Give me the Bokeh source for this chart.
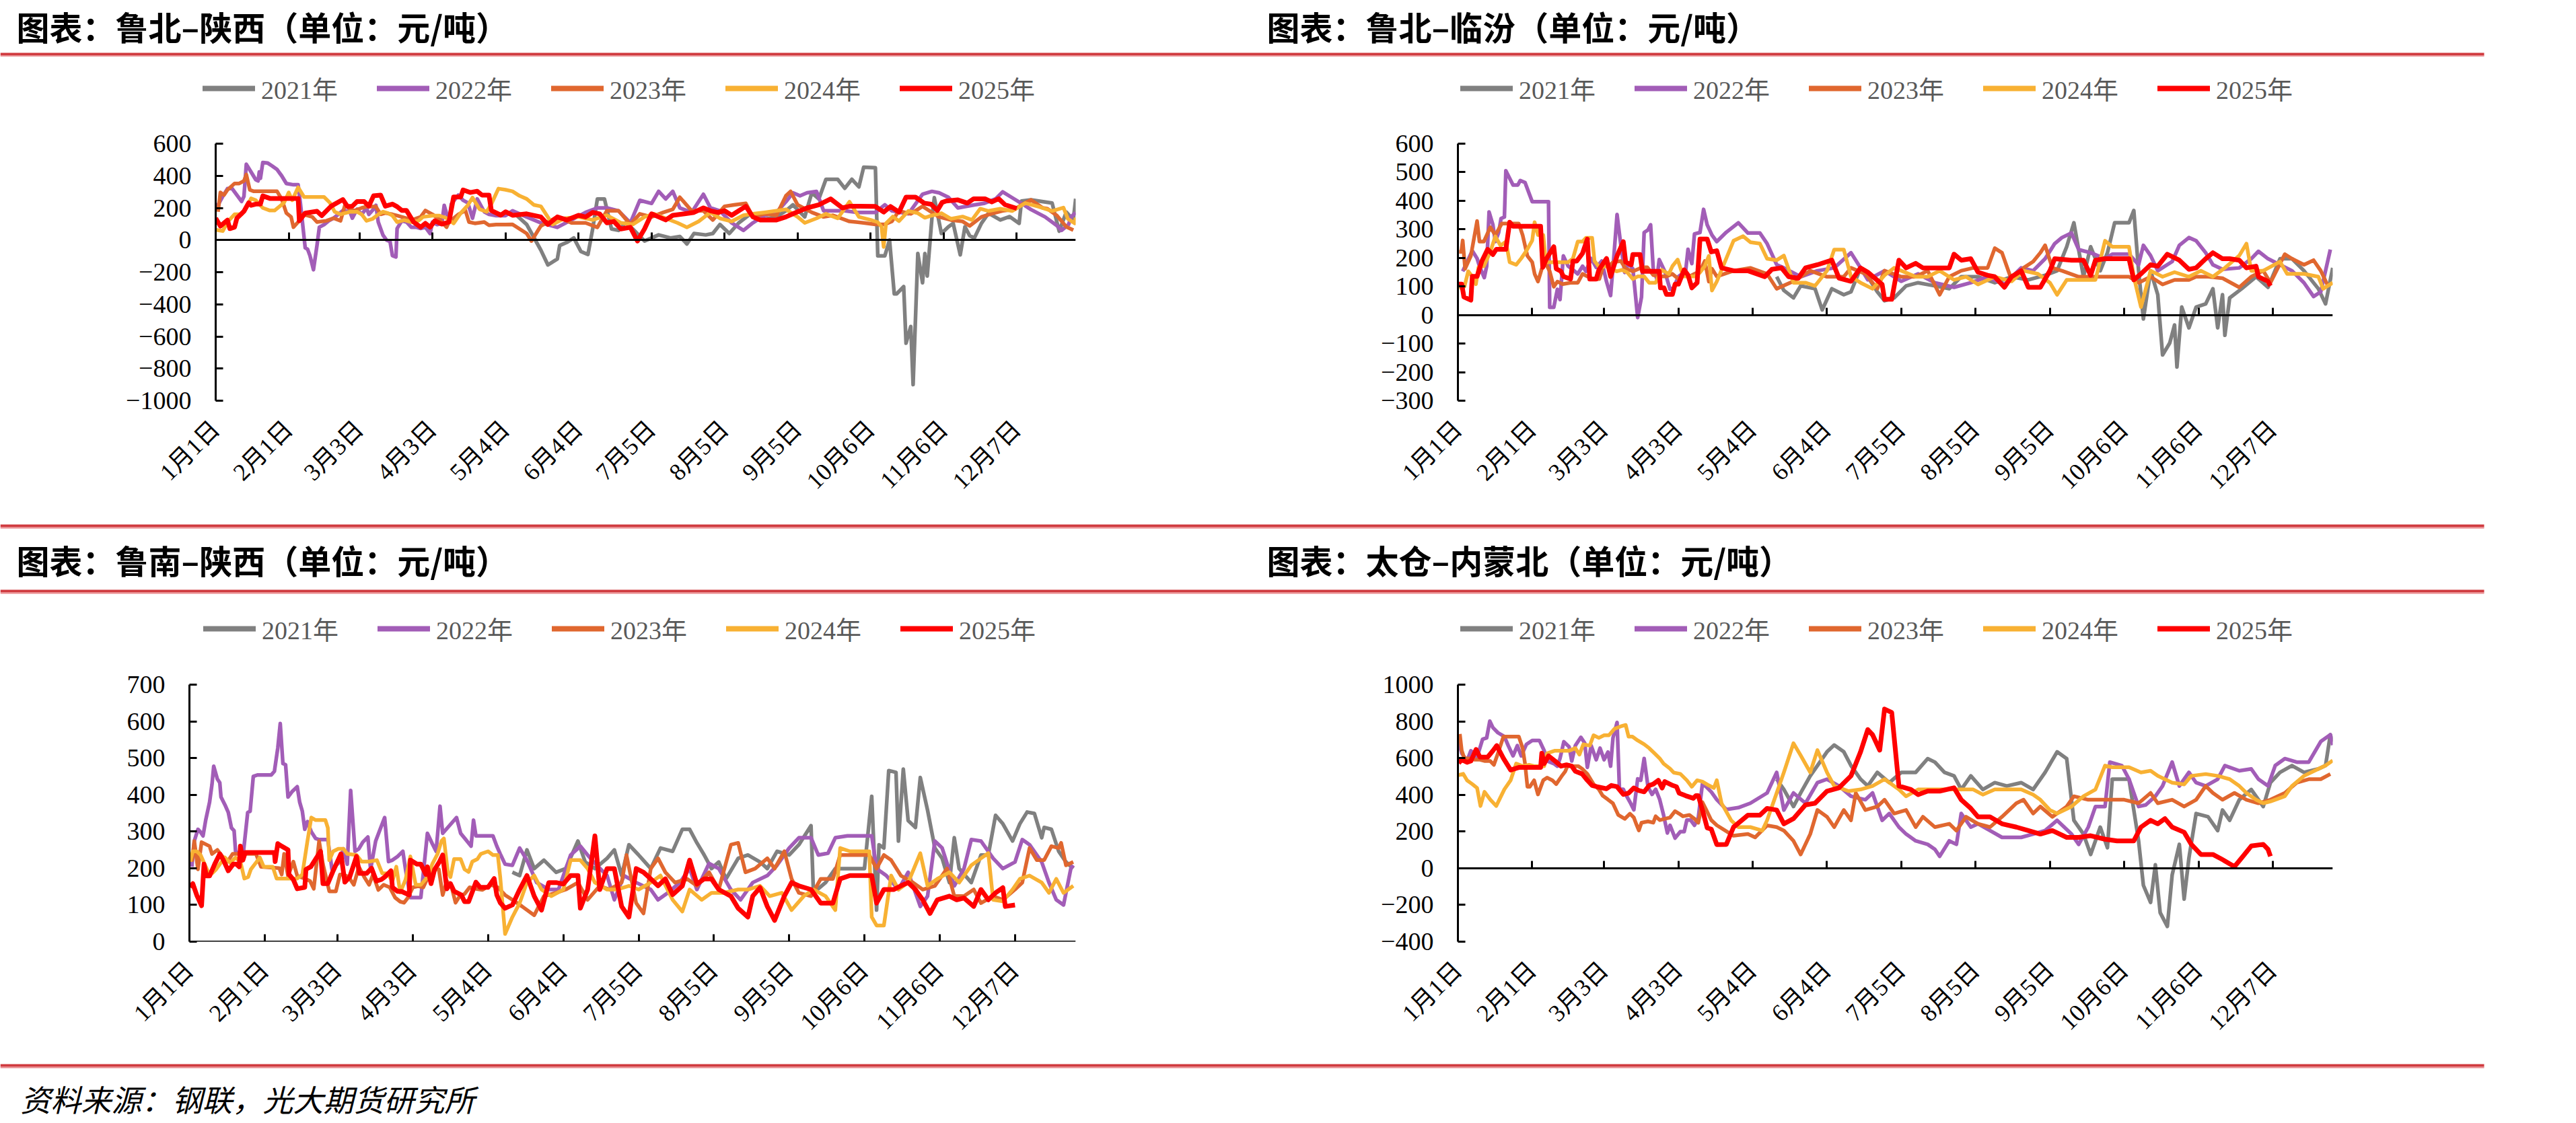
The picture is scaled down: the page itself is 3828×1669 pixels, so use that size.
import math
from bokeh.plotting import figure
from bokeh.models import LinearAxis, FixedTicker, Legend, LegendItem, Range1d
from bokeh.layouts import column, row
from bokeh.embed import file_html
from bokeh.resources import INLINE
from bokeh.core.properties import value

# ---------------------------------------------------------------- data
years = ["2021年", "2022年", "2023年", "2024年", "2025年"]
tick_days = [0, 31, 61, 92, 123, 154, 185, 216, 247, 278, 309, 340]
tick_labels = ["1月1日", "2月1日", "3月3日", "4月3日", "5月4日", "6月4日",
               "7月5日", "8月5日", "9月5日", "10月6日", "11月6日", "12月7日"]
titles = ["图表：鲁北–陕西（单位：元/吨）", "图表：鲁北–临汾（单位：元/吨）",
          "图表：鲁南–陕西（单位：元/吨）", "图表：太仓–内蒙北（单位：元/吨）"]
source_note = "资料来源：钢联，光大期货研究所"

# [day of year (0 = 1月1日), 元/吨]
lubei_shaanxi_2021 = [[128,150],[132,97],[138,-62],[141,-155],[145,-118],[146,-34],[149,-15],[152,13],[155,-71],[158,-90],[160,69],[162,256],[165,256],[168,69],[171,60],[174,107],[177,69],[182,-6],[185,13],[188,32],[193,13],[197,22],[200,-24],[203,41],[208,32],[211,41],[214,97],[218,41],[222,107],[227,163],[231,125],[238,144],[242,182],[245,219],[250,144],[253,294],[256,256],[259,378],[264,378],[267,322],[270,378],[273,331],[275,453],[280,450],[281,-98],[284,-98],[286,0],[288,-335],[289,-335],[292,-290],[293,-642],[295,-538],[296,-900],[298,-84],[300,-266],[301,-84],[302,-224],[304,139],[305,264],[308,41],[311,83],[313,104],[316,-92],[318,83],[320,27],[322,13],[325,104],[328,167],[333,125],[337,146],[341,104],[342,243],[346,250],[355,230],[358,55],[361,174],[364,125],[365,257]]
lubei_shaanxi_2022 = [[0,192],[3,272],[5,320],[7,320],[9,280],[11,240],[12,272],[13,472],[15,424],[17,376],[18,368],[18.5,424],[19,384],[20,483],[22,480],[24,461],[26,440],[28,400],[30,352],[33,344],[35,344],[36,224],[38,-49],[39,-57],[40,-97],[41.5,-185],[43,-33],[44,80],[46,96],[48,120],[50,136],[52,160],[54,184],[57,176],[58,136],[60,192],[62,160],[64,200],[65,160],[67,192],[68,216],[69,112],[71,31],[72.5,0],[74,-9],[75,-97],[76.5,-105],[77,72],[79,120],[81,112],[83,80],[85,80],[87,72],[89,80],[91,40],[92,112],[94,96],[96,104],[97,216],[99,112],[100,224],[103,280],[105,248],[107,232],[109,136],[111,256],[114,176],[116,160],[119,152],[123,152],[126,182],[132,144],[138,107],[145,79],[151,125],[157,172],[162,200],[166,200],[171,182],[176,107],[180,247],[185,228],[188,303],[191,256],[194,303],[197,200],[202,172],[207,285],[210,200],[214,182],[219,107],[224,60],[228,107],[233,154],[238,172],[242,238],[245,294],[248,275],[251,294],[255,303],[258,182],[262,182],[267,182],[272,172],[280,172],[284,219],[287,182],[294,163],[300,285],[304,303],[307,294],[311,266],[315,200],[322,219],[326,228],[331,256],[334,300],[338,264],[342,228],[346,190],[352,144],[357,90],[359,60],[362,97],[363,144],[365,170]]
lubei_shaanxi_2023 = [[1,176],[2,296],[3.5,280],[5,312],[8,352],[10,352],[12,368],[13,408],[14.5,312],[16,304],[19,304],[26,304],[28,256],[30,168],[32,144],[33,80],[35,112],[37,160],[39,152],[41,144],[43,112],[47,120],[50,136],[53,120],[55,224],[57,192],[59,184],[62,200],[64,208],[68,208],[70,160],[72,168],[75,160],[77,152],[81,136],[84,128],[87,144],[89,184],[92,160],[95,128],[98,80],[99,112],[103,160],[106,184],[107.5,112],[110,104],[114,112],[116,92],[119,96],[123,96],[126,97],[132,41],[134,-6],[138,88],[145,144],[151,107],[157,107],[162,79],[166,182],[171,182],[176,97],[180,163],[185,144],[190,172],[194,191],[197,266],[202,182],[207,182],[211,125],[216,210],[220,219],[225,228],[228,144],[233,163],[238,154],[242,275],[244,303],[247,219],[253,172],[258,144],[262,154],[269,116],[275,107],[280,97],[284,97],[287,116],[290,182],[295,163],[300,210],[304,172],[307,144],[312,125],[317,116],[320,88],[325,144],[329,163],[334,182],[339,191],[342,219],[346,250],[351,200],[353,195],[357,153],[361,83],[364,62]]
lubei_shaanxi_2024 = [[0,64],[3,56],[5,112],[8,160],[11,160],[13,200],[15,259],[17,248],[20,200],[23,184],[25,184],[27,208],[29,232],[31,296],[32.5,248],[35,328],[37.5,268],[41,268],[46,268],[48.5,232],[50.5,176],[53,160],[57,176],[60,176],[62,160],[64,120],[66.5,131],[69,160],[71,176],[73,168],[75,152],[77,112],[80,124],[83,112],[86,120],[88,144],[92,152],[95,152],[98,136],[101,104],[104,168],[107,216],[109,264],[112,192],[115,176],[117,224],[120,320],[123,313],[126,303],[129,275],[132,256],[135,219],[138,210],[143,97],[148,135],[154,144],[160,125],[166,154],[172,107],[177,97],[182,144],[186,163],[191,135],[196,107],[200,79],[205,116],[210,172],[214,135],[219,116],[224,154],[228,163],[233,172],[238,182],[242,191],[247,144],[250,107],[255,135],[259,163],[264,135],[269,238],[273,144],[278,125],[281,111],[282.6,83],[283.5,-43],[284.5,104],[287.4,146],[290,118],[294,181],[298,167],[301,139],[304,153],[308,167],[312,132],[317,146],[321,125],[324.5,195],[328,181],[333,195],[338,181],[343.6,230],[349,209],[355,181],[359.8,202],[361.7,132],[364.6,104],[365,139]]
lubei_shaanxi_2025 = [[0,136],[2,87],[5,124],[6,71],[8,80],[9,136],[12,179],[14,232],[15,216],[17,224],[19,224],[20,275],[23,259],[35,259],[35.5,120],[38,168],[43,179],[45,152],[49,211],[54,252],[56,208],[58,211],[60,240],[63,240],[65,211],[67,275],[70,280],[72,211],[75,224],[77,208],[79,184],[81,184],[84,112],[87,80],[89,104],[91,80],[93,120],[96,99],[99,112],[101,268],[104,268],[105,312],[108,296],[111,304],[113,280],[116,280],[117,184],[121,155],[123,176],[126,154],[132,163],[138,144],[141,97],[145,144],[149,125],[154,154],[157,144],[160,172],[163,163],[166,107],[169,116],[172,69],[176,79],[179,-6],[182,69],[185,163],[188,144],[191,125],[194,154],[199,163],[203,172],[207,200],[210,182],[213,172],[216,182],[219,154],[222,182],[225,210],[228,144],[231,125],[238,125],[242,144],[245,163],[248,182],[251,200],[256,219],[261,256],[266,200],[269,210],[273,210],[280,209],[283.5,174],[286.4,209],[290,174],[293,267],[297,267],[300.7,230],[303.6,223],[306.3,184],[308.3,234],[310,243],[315,250],[319,230],[321.7,257],[326.5,257],[329.4,237],[332.3,257],[335,220],[340,197]]

lubei_linfen_2021 = [[133,134],[136,86],[140,60],[143,102],[149,92],[152,18],[156,92],[161,71],[164,81],[168,165],[171,134],[175,81],[178,50],[182,60],[187,102],[192,113],[199,102],[205,92],[210,134],[217,134],[224,113],[231,134],[238,123],[245,139],[250,155],[254,239],[257,323],[261,134],[264,239],[268,155],[271,218],[274,323],[280,323],[282,366],[284,155],[286,-14],[289,155],[292,71],[294,-140],[297,-98],[299,-35],[300,-182],[302,28],[305,-45],[308,28],[312,39],[315,92],[317,-45],[319,71],[320,-71],[322,60],[327,92],[333,134],[338,97],[343,197],[348,197],[353,155],[359,92],[362,39],[365,165]]
lubei_linfen_2022 = [[2,153],[4,189],[6,225],[8,198],[9,171],[11,131],[12,171],[13,361],[14.6,316],[15.6,257],[17,289],[18,338],[19.4,343],[20,505],[23,455],[25,455],[26,471],[28,464],[31,397],[33,397],[37.8,397],[38.3,27],[40,27],[41.5,90],[42.6,54],[44,207],[46,171],[47.5,162],[50,144],[52,171],[53.4,153],[55.6,198],[57.7,167],[60,189],[62,117],[63.7,68],[65,198],[66.4,352],[68,243],[69.6,149],[71.2,180],[73,162],[75,-9],[76.6,63],[77.7,289],[79.3,298],[80.4,316],[81.5,162],[83,126],[84,194],[86.3,153],[88.5,90],[90,95],[92,135],[95,153],[96,230],[97.6,180],[98.7,284],[101,289],[102.5,370],[104,316],[106,280],[108,257],[112,290],[117,323],[121,287],[126,287],[129,250],[133,176],[136,165],[143,134],[150,155],[157,165],[164,218],[168,165],[171,123],[178,155],[185,118],[192,144],[199,113],[207,97],[214,113],[221,134],[228,107],[235,165],[240,155],[245,197],[249,250],[252,271],[256,287],[259,229],[264,218],[270,197],[273,213],[280,213],[284,176],[286,244],[289,208],[292,155],[298,187],[301,244],[305,271],[308,260],[312,218],[315,176],[319,160],[326,165],[331,197],[334,223],[338,197],[343,176],[348,155],[353,113],[357,65],[360,81],[364,229]]
lubei_linfen_2023 = [[0.5,221],[1.4,221],[2,261],[3,162],[5.4,207],[8,329],[9,257],[10.8,257],[13.5,307],[15.6,280],[18.3,320],[21,320],[25.4,320],[27,280],[29,207],[31,185],[32,144],[33.4,117],[35,162],[36.7,180],[38.3,153],[40,99],[41.5,117],[43.7,108],[47,113],[50,113],[52,144],[54,135],[56,126],[59,126],[61,180],[63,171],[64.7,185],[68,189],[70,162],[73,153],[75.5,162],[77,167],[79,167],[81.5,140],[84,135],[87,135],[89.5,144],[92,126],[94,140],[96.6,135],[98.7,144],[101,153],[103,189],[104.7,117],[106,162],[108,135],[115,155],[122,165],[129,144],[133,92],[140,118],[147,155],[154,134],[161,134],[164,165],[170,144],[175,92],[178,155],[185,134],[191,134],[196,155],[201,71],[205,134],[210,155],[215,165],[221,165],[224,234],[227,218],[231,123],[236,165],[240,187],[243,218],[245,244],[248,165],[252,155],[259,134],[266,134],[273,134],[280,134],[284,113],[289,134],[294,107],[299,123],[305,123],[308,134],[313,134],[319,129],[326,97],[331,134],[336,155],[339,113],[345,213],[348,197],[353,176],[357,192],[360,155],[363,102]]
lubei_linfen_2024 = [[0.5,95],[2.7,99],[4.3,153],[6,135],[7.5,108],[8.6,167],[10.8,171],[13.5,221],[15.6,275],[17.8,243],[20,257],[21.6,185],[24.3,176],[26.4,198],[28.6,225],[31,261],[32,325],[33.4,280],[35.6,280],[36.7,185],[41.5,185],[46,185],[48,198],[50,257],[52,257],[53.4,270],[56,270],[57,189],[59,167],[62,171],[64,158],[66.4,153],[68.5,158],[70.7,149],[73,126],[75,135],[77.7,135],[79.8,113],[82.5,113],[85,158],[88,144],[89.5,171],[91.7,194],[94,135],[96.6,135],[98.7,135],[101,149],[103,171],[104.7,207],[106,86],[108,117],[115,260],[119,276],[122,255],[126,250],[129,197],[133,192],[136,208],[140,113],[145,113],[149,102],[154,155],[157,229],[161,229],[164,134],[168,113],[173,92],[178,139],[182,165],[185,155],[191,134],[196,134],[201,155],[207,123],[212,134],[217,107],[224,134],[231,118],[236,155],[242,144],[247,113],[250,71],[254,123],[261,123],[266,123],[270,260],[273,239],[280,239],[282,134],[285,28],[289,155],[294,134],[299,150],[305,134],[310,155],[315,134],[320,165],[326,208],[329,250],[331,155],[336,155],[343,187],[346,144],[353,144],[359,134],[361,92],[365,113]]
lubei_linfen_2025 = [[0,108],[1.6,108],[2.5,63],[5.4,52],[6,135],[8,135],[10,189],[12.4,230],[14.6,212],[16,230],[20,230],[21.6,325],[23,311],[34.5,311],[35.4,167],[37,198],[40,239],[41,162],[43,153],[44,135],[47,126],[48,189],[49.6,189],[52,216],[54,266],[55,126],[57.7,126],[58.8,158],[62,198],[63.7,135],[66.4,207],[69,257],[70,185],[72.3,176],[73,212],[76,212],[77,153],[84,153],[84.5,95],[86,95],[87,72],[89.5,72],[90.6,108],[92,108],[94.4,158],[96,140],[97.6,95],[99.8,113],[101,266],[104,266],[105.7,221],[108,225],[110,165],[115,155],[121,155],[128,134],[131,160],[135,165],[138,134],[142,129],[145,165],[150,176],[156,192],[159,129],[164,118],[168,165],[171,150],[177,107],[178,55],[181,55],[184,192],[187,165],[191,181],[194,165],[205,165],[207,213],[210,192],[214,197],[217,150],[221,139],[224,134],[228,97],[231,134],[235,155],[238,97],[243,97],[247,155],[249,197],[256,192],[261,192],[264,139],[266,192],[270,197],[280,197],[282,123],[285,144],[289,176],[292,171],[296,213],[301,192],[305,160],[308,165],[312,197],[315,218],[319,197],[322,197],[326,192],[329,165],[333,171],[334,134],[338,118],[339,102]]

lunan_shaanxi_2021 = [[133,189],[136,180],[139,250],[142,199],[146,222],[151,189],[155,199],[160,274],[163,217],[167,199],[172,227],[175,250],[178,180],[181,264],[185,236],[190,199],[194,255],[199,246],[203,306],[206,306],[209,269],[212,236],[215,199],[218,217],[221,171],[226,227],[230,236],[235,217],[238,199],[242,246],[247,236],[251,264],[256,316],[257,133],[262,161],[266,199],[271,199],[278,199],[281,396],[283,86],[284,264],[286,255],[288,466],[291,461],[292,274],[294,470],[296,330],[299,311],[301,447],[304,358],[307,255],[310,227],[313,161],[315,283],[317,199],[322,161],[326,236],[329,236],[332,344],[335,321],[339,274],[342,321],[345,353],[348,349],[351,283],[352,311],[355,306],[358,246],[361,217],[364,199]]
lunan_shaanxi_2022 = [[1,204],[2,274],[3.5,306],[4.5,299],[5.6,288],[6.7,331],[8.3,380],[9.3,429],[10,478],[11.5,443],[12.5,433],[13,394],[14.6,373],[16,352],[17.3,310],[18.4,302],[19,246],[22,229],[24,352],[25,355],[26.3,450],[28,454],[33.7,454],[35,464],[36.4,528],[37.4,594],[38.5,485],[39.6,482],[40.6,394],[42.2,408],[44.4,422],[45.4,380],[46.5,355],[47.5,306],[48.6,327],[50.2,299],[52,281],[53.4,278],[57,278],[58.7,197],[59.7,204],[62,218],[63.4,253],[65,211],[66.4,412],[68.2,246],[69.8,253],[71.4,271],[73.5,285],[74.6,197],[76.7,274],[78.3,302],[80.4,338],[82,218],[83.6,222],[85.7,232],[87.9,246],[89,197],[91,120],[95.3,120],[98,295],[100,267],[101.6,246],[103.2,369],[104.3,295],[110,338],[111.7,295],[113.8,278],[116,260],[117,331],[118,288],[125,288],[126.6,260],[128,239],[130,211],[133,208],[136,255],[139,222],[143,161],[148,142],[152,142],[157,236],[161,260],[164,236],[167,213],[172,180],[175,114],[179,180],[184,161],[190,142],[193,114],[197,133],[202,161],[206,199],[209,142],[214,213],[218,199],[223,142],[227,114],[232,161],[238,180],[242,208],[247,255],[251,283],[256,283],[259,236],[263,241],[266,283],[271,288],[281,288],[283,199],[287,180],[292,142],[296,189],[301,96],[304,124],[307,274],[310,255],[315,152],[319,199],[322,278],[326,274],[331,227],[335,199],[340,217],[343,278],[346,264],[351,217],[354,161],[357,114],[360,100],[363,199],[364,208]]
lunan_shaanxi_2023 = [[1,218],[2,274],[3.5,197],[5,271],[8.3,260],[9.3,239],[11.5,250],[13.6,232],[15.7,218],[17.8,239],[27.4,239],[29.5,204],[37,200],[38,183],[39,239],[40.6,179],[42.8,218],[44.4,179],[47.5,172],[49.7,165],[51.2,144],[53.4,274],[55,211],[57.6,137],[60.3,137],[62,183],[63.4,183],[65.6,176],[67.7,155],[69.8,204],[72,176],[74,155],[75.6,183],[77.8,141],[80,155],[82.5,148],[84.7,120],[86.8,109],[88.4,106],[90,120],[92,148],[94.2,151],[96.3,148],[98,172],[100.6,197],[102.7,197],[104.3,127],[106,165],[108,148],[109.6,106],[111.2,123],[113.3,130],[115.4,148],[118,144],[120.7,141],[124,155],[127,148],[130,127],[133,114],[137,96],[142,72],[146,124],[151,133],[155,142],[160,161],[164,114],[169,152],[173,142],[178,161],[180,236],[184,105],[187,77],[190,199],[193,227],[196,189],[200,161],[205,171],[209,152],[214,189],[218,142],[223,264],[226,269],[229,189],[233,199],[238,227],[241,199],[245,246],[248,171],[251,133],[256,124],[260,171],[265,171],[268,236],[280,236],[283,199],[286,236],[289,222],[293,180],[298,161],[302,142],[307,152],[312,199],[315,124],[319,124],[323,142],[326,105],[331,124],[335,114],[340,142],[343,161],[346,255],[349,222],[352,222],[355,260],[358,255],[359,269],[361,208],[364,217]]
lunan_shaanxi_2024 = [[0.3,218],[1.4,246],[3,246],[4.6,236],[6,215],[7.7,190],[9.3,186],[11,197],[12.5,211],[14.6,229],[16.8,215],[19,229],[21,218],[22.6,172],[24.2,176],[25.3,197],[27.4,215],[29,229],[30.6,204],[34.3,204],[35.9,172],[44.4,172],[46.5,183],[48.6,274],[50.2,338],[52,331],[56,331],[57,310],[57.6,222],[59.2,246],[61.3,253],[63.4,253],[65,239],[68.8,236],[70.9,218],[74,218],[77.2,222],[79.4,186],[81.5,186],[83.6,165],[85.2,204],[86.8,134],[89,169],[91,232],[93.2,155],[95.3,155],[98,176],[100,211],[102.2,239],[103.8,274],[104.8,281],[106.4,190],[107.5,176],[109,225],[111.7,225],[113.3,197],[115,190],[116.5,218],[118.6,225],[120,239],[123,246],[125,236],[127,236],[128,176],[129,98],[130,21],[133,67],[136,105],[139,161],[142,180],[145,142],[149,124],[154,142],[157,222],[161,222],[164,199],[167,161],[172,142],[176,142],[181,152],[185,142],[190,161],[194,180],[199,114],[203,82],[206,142],[211,114],[215,133],[220,133],[226,142],[230,142],[235,152],[239,124],[244,133],[248,86],[253,124],[257,142],[262,124],[266,86],[268,255],[272,246],[280,246],[281,67],[283,44],[286,44],[289,180],[292,142],[296,161],[301,241],[304,152],[308,171],[313,189],[317,161],[322,208],[326,227],[329,241],[331,114],[335,110],[339,142],[342,171],[346,180],[351,161],[354,133],[357,171],[360,133],[364,152]]
lunan_shaanxi_2025 = [[0.3,148],[1.4,158],[3,127],[5,98],[6,211],[7,179],[8.3,179],[10.4,211],[12.5,239],[14,222],[16,193],[18,211],[19.4,211],[20.5,204],[21,260],[22,222],[23,243],[35,243],[35.3,218],[36.4,267],[38,260],[40.6,250],[41,183],[42.8,169],[44.4,144],[47.5,148],[48,197],[50,204],[52,225],[54,246],[55,158],[57,158],[59,190],[62.4,239],[64,162],[66,176],[68.8,232],[70,186],[73,186],[75,200],[77,165],[79,169],[80.4,176],[83,193],[83.6,148],[85.7,137],[87.3,137],[90.5,127],[91,222],[93.7,211],[95.3,211],[97.4,183],[98,204],[99.5,158],[101,197],[103,218],[104.3,236],[106,144],[107.5,158],[109,137],[112,127],[113.3,109],[115,109],[118,162],[119.7,148],[123,148],[125.5,172],[126.6,127],[128,106],[130,91],[133,100],[136,142],[139,180],[142,124],[145,86],[148,161],[151,161],[154,157],[157,180],[160,180],[161,91],[164,142],[167,288],[169,142],[172,199],[175,199],[178,96],[181,67],[184,199],[187,189],[190,171],[193,152],[196,171],[199,128],[203,152],[206,222],[209,157],[212,171],[215,171],[218,142],[223,124],[226,91],[230,67],[232,124],[235,147],[238,96],[241,58],[245,124],[248,161],[251,152],[256,142],[260,105],[265,105],[268,171],[272,180],[281,180],[283,105],[286,142],[290,142],[293,152],[296,161],[299,142],[302,114],[305,77],[308,114],[313,124],[316,114],[319,119],[323,96],[326,142],[329,114],[332,133],[335,147],[336,96],[340,100]]

taicang_neimeng_2021 = [[133,485],[136,429],[140,336],[143,410],[147,503],[150,559],[154,634],[157,671],[161,634],[164,559],[168,485],[171,448],[175,522],[180,466],[185,522],[191,522],[196,597],[199,578],[203,522],[207,503],[210,429],[214,503],[219,429],[224,466],[229,448],[235,466],[240,429],[245,522],[250,634],[254,597],[257,261],[261,186],[264,75],[268,224],[271,112],[273,485],[280,485],[282,317],[284,149],[286,-93],[289,-186],[291,19],[293,-242],[296,-317],[298,-37],[301,130],[303,-168],[305,56],[308,298],[313,280],[317,205],[319,317],[322,261],[326,373],[331,429],[336,336],[339,466],[343,522],[348,559],[353,522],[359,541],[362,559],[364,727],[365,690]]
taicang_neimeng_2022 = [[0.5,682],[1.6,626],[3.8,584],[5.4,640],[8,605],[10.3,703],[12,710],[13.3,801],[14.6,766],[16.7,738],[19.4,717],[21,668],[23,612],[24.8,668],[26.4,612],[28.6,675],[31,696],[34,696],[36,640],[37.2,584],[40,570],[41.5,556],[42.6,598],[44.2,689],[46.4,661],[47.5,584],[49,668],[51.3,713],[52.9,682],[54,549],[55.6,668],[57.7,591],[59.3,654],[61,591],[62.6,633],[63.7,556],[64.7,710],[66.4,794],[67.4,430],[69,430],[70,402],[71.8,360],[73.4,318],[75,487],[76.3,479],[77.7,598],[79.3,444],[81,402],[82.5,430],[84.2,374],[85.8,290],[87.4,192],[88.5,234],[90.6,164],[92.8,199],[94.4,199],[95.5,262],[97.1,262],[98.7,234],[100.3,276],[102,458],[103.6,444],[105.7,416],[108,374],[112,320],[117,330],[122,354],[129,410],[133,522],[136,317],[140,410],[145,354],[150,466],[154,485],[159,448],[164,392],[170,373],[173,410],[177,261],[180,298],[184,224],[187,186],[191,149],[196,130],[199,103],[201,65],[205,149],[208,130],[210,298],[214,224],[217,242],[222,205],[227,168],[235,168],[240,186],[245,205],[250,261],[256,186],[259,130],[263,224],[266,336],[270,336],[272,578],[277,559],[280,485],[284,336],[287,345],[291,392],[294,448],[298,578],[301,448],[305,522],[308,466],[312,448],[317,485],[320,559],[326,531],[331,541],[334,485],[338,448],[341,559],[345,597],[350,578],[355,578],[360,690],[364,727],[365,671]]
taicang_neimeng_2023 = [[0.8,731],[1.6,640],[2.7,598],[4.9,598],[7,591],[9.2,591],[11.3,584],[13.5,584],[15,563],[16.7,626],[19,717],[25.4,717],[27,654],[28,570],[29,444],[30,444],[31.8,479],[33.4,402],[35.6,479],[37.2,493],[39.4,479],[41,458],[43.2,500],[44.8,528],[45.9,563],[48,556],[50.2,556],[51.8,542],[54,514],[56.6,458],[58.8,430],[60.4,395],[62.6,374],[64.7,353],[66.9,290],[69.6,269],[71.8,297],[73.4,276],[74.4,241],[75.5,206],[76.6,248],[79.3,255],[81.5,248],[82.5,283],[84.2,262],[86.3,269],[88.5,276],[90.6,311],[92.3,297],[93.9,283],[96.6,290],[98.7,269],[100.3,248],[102,360],[103.6,318],[105.7,262],[108,234],[115,177],[121,186],[124,168],[129,233],[133,224],[136,205],[140,149],[143,75],[147,186],[150,317],[154,280],[157,224],[161,317],[164,261],[166,410],[170,317],[175,336],[178,373],[182,298],[187,317],[191,224],[194,280],[199,224],[205,242],[208,205],[212,280],[217,242],[222,224],[227,280],[233,354],[236,373],[240,298],[243,336],[248,280],[254,336],[257,392],[263,373],[268,373],[278,373],[284,354],[289,410],[292,354],[298,373],[303,336],[308,373],[312,448],[315,410],[319,373],[324,410],[329,373],[334,354],[339,373],[345,410],[350,466],[355,485],[360,485],[364,513]]
taicang_neimeng_2024 = [[0.3,507],[2.2,514],[3.8,479],[6,458],[8,437],[9.4,339],[11.1,416],[13.5,374],[16,339],[17.3,374],[19.4,430],[22,479],[24.3,570],[27,556],[29.7,563],[31.8,556],[36,556],[37.2,626],[40.5,640],[46.4,640],[49,654],[50.7,619],[52.3,675],[55,668],[56.6,724],[58.8,710],[61,724],[63,724],[65.3,759],[68,773],[70,780],[71.2,717],[72.8,717],[75,696],[77.7,675],[79.8,654],[82,626],[84.2,598],[85.8,570],[88.5,542],[90,521],[92.8,514],[95.5,479],[97.6,444],[99.8,479],[102,472],[104.7,451],[106.8,437],[108,479],[110,354],[114,261],[117,224],[122,224],[127,205],[129,261],[133,410],[136,522],[140,681],[143,615],[147,522],[150,643],[154,522],[157,448],[163,420],[168,429],[173,448],[178,485],[184,429],[187,392],[192,429],[215,429],[219,401],[224,429],[235,429],[240,401],[243,373],[247,317],[250,298],[256,336],[261,392],[266,429],[270,559],[273,550],[280,550],[285,522],[289,531],[292,503],[298,466],[303,457],[306,503],[312,513],[317,503],[322,485],[326,448],[329,410],[333,373],[336,354],[339,364],[345,392],[348,448],[353,503],[359,541],[362,559],[365,587]]
taicang_neimeng_2025 = [[0.3,573],[1.6,591],[3.8,577],[5.4,584],[7.6,647],[9.2,605],[12.4,605],[14.6,640],[16.2,668],[19,598],[22,535],[25.4,549],[34.5,549],[35,626],[36,570],[37.8,612],[40.5,584],[43,556],[45.3,563],[47.5,556],[49,528],[51.8,514],[54,479],[56,451],[58,444],[62,433],[64,451],[66.4,444],[69,402],[71.2,409],[73.4,437],[75.5,423],[77.7,416],[79.8,451],[81.5,458],[83.6,479],[85.2,437],[86.3,472],[89.6,451],[91.2,444],[92.3,409],[95,395],[98.2,381],[99.3,395],[100.3,395],[102,318],[104,220],[105.7,213],[108,129],[112,130],[115,224],[121,289],[126,289],[129,326],[133,317],[136,242],[140,270],[145,345],[149,354],[154,420],[159,438],[164,503],[168,634],[171,755],[173,727],[176,643],[178,867],[181,848],[184,448],[189,429],[192,401],[196,420],[201,420],[207,438],[210,373],[214,326],[217,280],[222,280],[227,242],[233,224],[238,205],[243,186],[248,205],[254,168],[259,168],[264,177],[270,158],[275,149],[282,149],[285,224],[289,261],[292,242],[295,270],[298,224],[303,196],[306,130],[310,75],[315,75],[319,47],[324,9],[327,56],[331,121],[336,130],[338,103],[339,65]]

# ---------------------------------------------------------------- styling
SERIF = "'Liberation Serif', 'Noto Sans CJK SC', serif"
CJK = "'Noto Sans CJK SC', sans-serif"
LINE_COLORS = ["#808080", "#A25DB7", "#E0672F", "#F8B133", "#FF0000"]
LINE_WIDTHS = [5.5, 5.5, 5.5, 5.5, 7]
RULE_DARK = "#D03A3F"
RULE_LIGHT = "#EA8A8D"
PAGE_W = 3828
LEFT_W = 1880
RIGHT_W = PAGE_W - LEFT_W
RULE_END = 3691


def minus(t):
    return "\u2212" + str(-t) if t < 0 else str(t)


def blank(width, height, y_flip=True):
    p = figure(frame_width=width, frame_height=height, min_border=0,
               x_range=Range1d(0, width),
               y_range=Range1d(height, 0) if y_flip else Range1d(0, height),
               x_axis_location=None, y_axis_location=None,
               toolbar_location=None, output_backend="svg",
               outline_line_color=None, background_fill_color="white",
               border_fill_color="white")
    p.grid.grid_line_color = None
    return p


def strip(height, rules, texts):
    p = blank(PAGE_W, height)
    for y0 in rules:
        p.quad(left=[0], right=[RULE_END], top=[y0], bottom=[y0 + 4],
               fill_color=RULE_DARK, line_color=None)
        p.quad(left=[0], right=[RULE_END], top=[y0 + 4], bottom=[y0 + 6],
               fill_color=RULE_LIGHT, line_color=None)
    for x, y, txt, size, style in texts:
        p.text(x=[x], y=[y], text=[txt], text_font=value(CJK),
               text_font_size=size, text_font_style=style,
               text_baseline="middle", text_align="left", text_color="black")
    return p


def legend_strip(width, height, loc):
    p = blank(width, height, y_flip=False)
    items = []
    for name, color in zip(years, LINE_COLORS):
        # a single undefined point: nothing is plotted, only the legend swatch
        swatch = p.line([0], [float("nan")], line_color=color, line_width=8,
                        line_cap="round")
        items.append(LegendItem(label=name, renderers=[swatch]))
    legend = Legend(items=items, location=loc, orientation="horizontal",
                    glyph_width=78, glyph_height=50, label_standoff=9,
                    label_width=114, label_height=50, spacing=58,
                    padding=0, margin=0, border_line_color=None,
                    background_fill_alpha=0,
                    label_text_font=SERIF, label_text_font_size="38px",
                    label_text_color="#595959")
    p.add_layout(legend, "center")
    return p


def make_panel(series, y_lo, y_hi, y_step, geom):
    left, fw, right, top, fh, bottom = geom
    p = figure(frame_width=fw, frame_height=fh,
               min_border_left=left, min_border_right=right,
               min_border_top=top, min_border_bottom=bottom,
               x_range=Range1d(0, 365), y_range=Range1d(y_lo, y_hi),
               x_axis_location=None, y_axis_location=None,
               toolbar_location=None, output_backend="svg",
               outline_line_color=None, background_fill_color="white",
               border_fill_color="white")
    p.grid.grid_line_color = None

    y_ticks = list(range(y_lo, y_hi + 1, y_step))
    yaxis = LinearAxis(ticker=FixedTicker(ticks=y_ticks),
                       major_label_overrides={t: minus(t) for t in y_ticks},
                       axis_line_width=3, axis_line_color="black",
                       major_tick_in=11, major_tick_out=0,
                       major_tick_line_width=3, major_tick_line_color="black",
                       minor_tick_line_color=None,
                       major_label_text_font=SERIF,
                       major_label_text_font_size="38px",
                       major_label_text_color="black",
                       major_label_standoff=36)
    p.add_layout(yaxis, "left")

    # horizontal axis drawn along the zero line, ticks pointing up
    zero_axis = LinearAxis(fixed_location=0, ticker=FixedTicker(ticks=tick_days),
                           major_label_overrides={t: "" for t in tick_days},
                           major_label_text_color=None,
                           major_label_text_font_size="1px",
                           major_label_standoff=0,
                           axis_line_width=3, axis_line_color="black",
                           major_tick_in=0, major_tick_out=11,
                           major_tick_line_width=3, major_tick_line_color="black",
                           minor_tick_line_color=None)
    p.add_layout(zero_axis, "above")

    # date labels along the bottom edge
    date_axis = LinearAxis(ticker=FixedTicker(ticks=tick_days),
                           major_label_overrides=dict(zip(tick_days, tick_labels)),
                           axis_line_color=None, major_tick_line_color=None,
                           minor_tick_line_color=None,
                           major_label_orientation=math.pi / 4,
                           major_label_text_font=SERIF,
                           major_label_text_font_size="36px",
                           major_label_text_color="black",
                           major_label_standoff=30)
    p.add_layout(date_axis, "below")

    for pts, color, lw in zip(series, LINE_COLORS, LINE_WIDTHS):
        p.line([d for d, _ in pts], [v for _, v in pts],
               line_color=color, line_width=lw, line_join="round")
    return p


header_top = strip(84, [78], [(24, 38, titles[0], "49px", "bold"),
                              (1882, 38, titles[1], "49px", "bold")])
header_mid = strip(105, [1, 98], [(24, 53, titles[2], "49px", "bold"),
                                  (1882, 53, titles[3], "49px", "bold")])
footer = strip(89, [1], [(30, 52, source_note, "45px", "italic")])

legend_top = row(legend_strip(LEFT_W, 96, (301, 22)),
                 legend_strip(RIGHT_W, 96, (290, 22)))
legend_bottom = row(legend_strip(LEFT_W, 97, (302, 19)),
                    legend_strip(RIGHT_W, 97, (290, 19)))

p_lbsx = make_panel([lubei_shaanxi_2021, lubei_shaanxi_2022, lubei_shaanxi_2023,
                     lubei_shaanxi_2024, lubei_shaanxi_2025],
                    -1000, 600, 200, (320, 1278, 282, 33, 382, 183))
p_lblf = make_panel([lubei_linfen_2021, lubei_linfen_2022, lubei_linfen_2023,
                     lubei_linfen_2024, lubei_linfen_2025],
                    -300, 600, 100, (286, 1300, 362, 33, 382, 183))
p_lnsx = make_panel([lunan_shaanxi_2021, lunan_shaanxi_2022, lunan_shaanxi_2023,
                     lunan_shaanxi_2024, lunan_shaanxi_2025],
                    0, 700, 100, (281, 1317, 282, 37, 382, 181))
p_tcnm = make_panel([taicang_neimeng_2021, taicang_neimeng_2022, taicang_neimeng_2023,
                     taicang_neimeng_2024, taicang_neimeng_2025],
                    -400, 1000, 200, (286, 1300, 362, 37, 382, 181))

page = column(header_top, legend_top, row(p_lbsx, p_lblf), header_mid,
              legend_bottom, row(p_lnsx, p_tcnm), footer)

open("out.html", "w").write(file_html(page, INLINE))
